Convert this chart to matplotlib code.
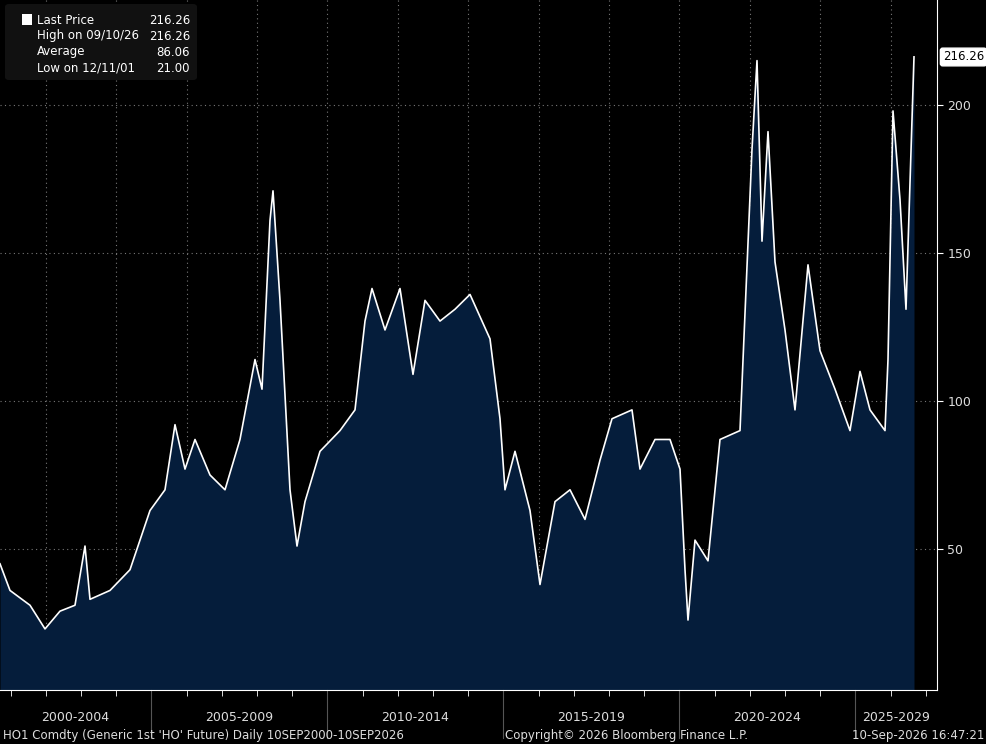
import matplotlib
matplotlib.use("Agg")
import matplotlib.pyplot as plt
import numpy as np

px = [0,10,30,45,60,75,85,90,110,130,140,150,165,175,185,195,210,225,240,255,262,270,273,280,290,297,305,320,340,355,365,372,385,400,413,425,440,455,470,490,500,505,515,530,540,555,570,585,600,612,632,640,655,670,680,685,688,695,708,720,740,752,757,762,768,775,785,795,808,820,835,850,860,870,885,888,893,900,906,912,914]
years = [2000.7 + p/35.2 for p in px]
prices = [45,36,31,23,29,31,51,33,36,43,53,63,70,92,77,87,75,70,87,114,104,161,171,134,70,51,66,83,90,97,127,138,124,138,109,134,127,131,136,121,94,70,83,63,38,66,70,60,80,94,97,77,87,87,77,43,26,53,46,87,90,185,215,154,191,147,124,97,146,117,104,90,110,97,90,114,198,168,131,195,216.26]
period_labels = ["2000-2004","2005-2009","2010-2014","2015-2019","2020-2024","2025-2029"]
period_starts = [2000,2005,2010,2015,2020,2025]
yticks = [50,100,150,200]

fig = plt.figure(figsize=(9.87,7.44), dpi=100, facecolor="black")
ax = fig.add_axes([0, 54/744, 937/987, 690/744])
ax.set_facecolor("black")
ax.fill_between(years, prices, 0, color="#051d3b", lw=0)
ax.plot(years, prices, color="white", lw=1.2)
x0, x1 = 2000.7, 2000.7 + 937/35.2
ax.set_xlim(x0, x1)
ax.set_ylim(200 - 585/2.96, 200 + 105/2.96)
for y in yticks:
    ax.axhline(y, color="#777777", ls=(0,(1,3)), lw=0.8, zorder=0)
for yr in range(2002, 2028, 2):
    ax.axvline(yr, color="#777777", ls=(0,(1,3)), lw=0.8, zorder=0)
ax.yaxis.tick_right()
ax.set_yticks(yticks)
ax.set_yticklabels([str(v) for v in yticks], color="#dddddd", fontsize=9)
ax.tick_params(axis="y", length=4, color="white")
ax.set_xticks(range(2001, 2028), minor=True)
ax.set_xticks([])
ax.tick_params(axis="x", which="minor", length=4, color="white", direction="out")
for s in ["top","left"]:
    ax.spines[s].set_visible(False)
ax.spines["bottom"].set_color("white")
ax.spines["right"].set_color("white")
for yr, lab in zip(period_starts, period_labels):
    mid = max(yr, x0) + (min(yr+5, x1) - max(yr, x0))/2
    ax.text(mid, -0.04, lab, transform=ax.get_xaxis_transform(), ha="center", va="center", color="#dddddd", fontsize=9)
    if yr > x0:
        ax.plot([yr, yr], [0, -0.07], transform=ax.get_xaxis_transform(), color="#555555", lw=0.8, clip_on=False)
fig.text(984/987, 1-57/744, "216.26", va="center", ha="right", fontsize=8.5, color="black",
         bbox=dict(boxstyle="round,pad=0.2", fc="white", ec="white"))
fig.text(0.003, 0.011, "HO1 Comdty (Generic 1st 'HO' Future) Daily 10SEP2000-10SEP2026", color="#dddddd", fontsize=8.5, va="center")
fig.text(0.635, 0.011, "Copyright\u00a9 2026 Bloomberg Finance L.P.", color="#dddddd", fontsize=8.5, ha="center", va="center")
fig.text(0.997, 0.011, "10-Sep-2026 16:47:21", color="#dddddd", fontsize=8.5, ha="right", va="center")
from matplotlib.patches import FancyBboxPatch
fig.patches.append(FancyBboxPatch((5/987, 1-80/744), 192/987, 76/744, boxstyle="round,pad=0,rounding_size=0.004",
                                  transform=fig.transFigure, fc="#111111", ec="none"))
rows = [("Last Price","216.26"),("High on 09/10/26","216.26"),("Average","86.06"),("Low on 12/11/01","21.00")]
for i,(a,b) in enumerate(rows):
    yy = 1 - (20 + 16*i)/744
    fig.text(37/987, yy, a, color="white", fontsize=8.5, va="center")
    fig.text(190/987, yy, b, color="white", fontsize=8.5, va="center", ha="right")
fig.patches.append(plt.Rectangle((22/987, 1-25/744), 10/987, 11/744, transform=fig.transFigure, fc="white"))
fig.savefig("out.png", dpi=100, facecolor="black")
